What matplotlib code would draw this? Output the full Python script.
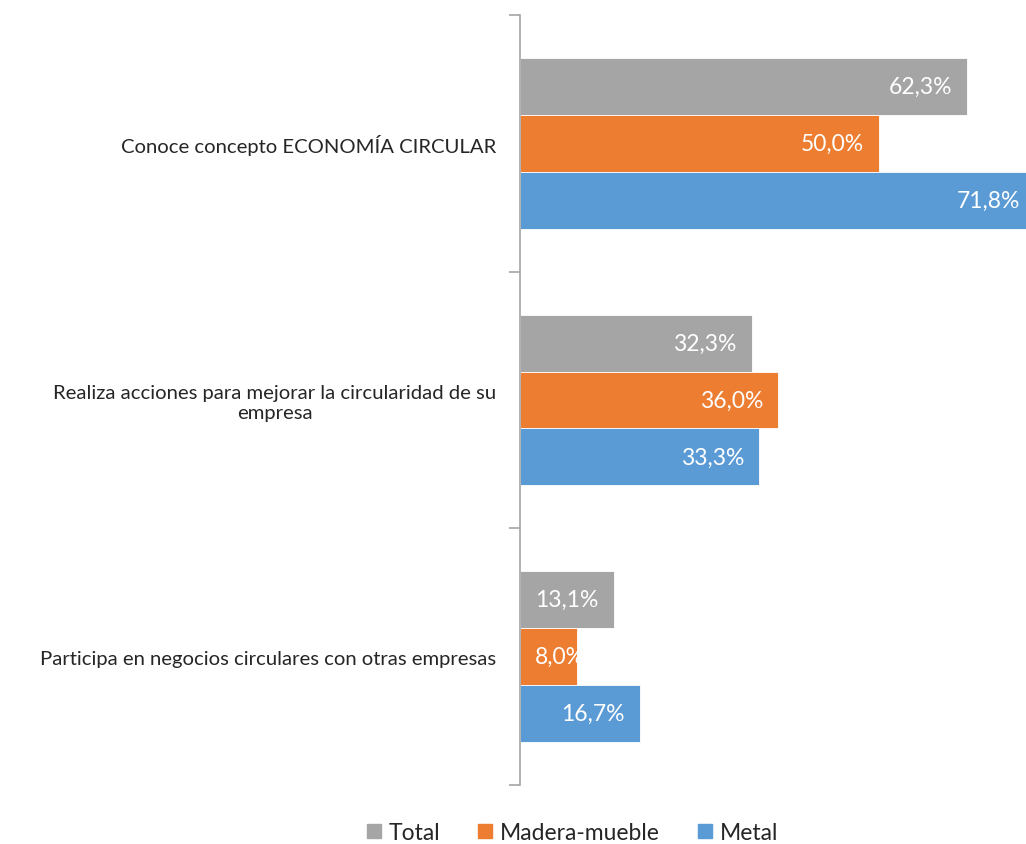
import matplotlib.pyplot as plt
from matplotlib.lines import Line2D

plt.rcParams['font.family'] = ['Lato', 'DejaVu Sans']

categorias = ['Conoce concepto ECONOMÍA CIRCULAR',
              'Realiza acciones para mejorar la circularidad de su\nempresa',
              'Participa en negocios circulares con otras empresas']
series = ['Total', 'Madera-mueble', 'Metal']
total = [62.3, 32.3, 13.1]
madera = [50.0, 36.0, 8.0]
metal = [71.8, 33.3, 16.7]
colores = ['#A5A5A5', '#ED7D31', '#5B9BD5']

fig = plt.figure(figsize=(10.26, 8.45), dpi=100)
# axes runs a bit past the right edge, like the cropped original
ax = fig.add_axes([520/1026, 59/845, 72*7.18/1026, 770/845])

h = 0.222
offs = [-h, 0, h]
for vals, off, c in zip([total, madera, metal], offs, colores):
    ys = [i + 0.5 + off for i in range(len(vals))]
    ax.barh(ys, vals, height=h, color=c, edgecolor='white', linewidth=0.6)
    for y, v in zip(ys, vals):
        lab = f'{v:.1f}%'.replace('.', ',')
        if v < 11.5:
            # too short, label would leave the bar on the left
            ax.text(2.1, y, lab, ha='left', va='center', color='white', fontsize=16.5)
        else:
            ax.text(v - 2.1, y, lab, ha='right', va='center', color='white', fontsize=16.5)

ax.set_xlim(0, 72)
ax.set_ylim(3, 0)
ax.set_yticks([0, 1, 2, 3])
ax.set_yticklabels([])
ax.set_yticks([0.5, 1.5, 2.5], minor=True)
ax.set_yticklabels(categorias, minor=True, fontsize=14.6, color='#262626',
                   multialignment='center')
ax.tick_params(axis='y', which='minor', length=0, pad=17)
ax.tick_params(axis='y', which='major', length=8, color='#A6A6A6', width=1.2)
ax.set_xticks([])
for s in ['top', 'right', 'bottom']:
    ax.spines[s].set_visible(False)
ax.spines['left'].set_color('#A6A6A6')
ax.spines['left'].set_linewidth(1.2)

handles = [Line2D([], [], marker='s', linestyle='', color=c, markersize=10) for c in colores]
fig.legend(handles, series, loc='center', bbox_to_anchor=(572/1026, 1 - 834/845), ncol=3,
           frameon=False, fontsize=16.5, handlelength=0.7, handletextpad=0.3,
           columnspacing=1.6, labelcolor='#262626')

fig.savefig('out.png')
